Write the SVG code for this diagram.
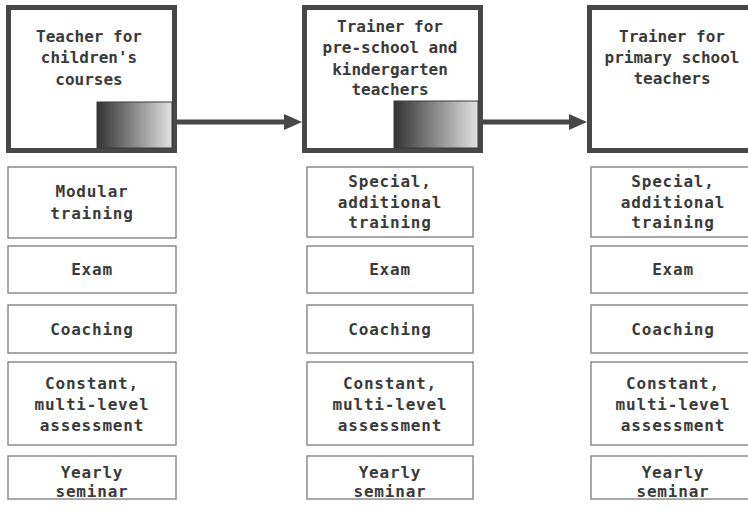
<svg xmlns="http://www.w3.org/2000/svg" width="748" height="510" viewBox="0 0 748 510">
<defs>
<linearGradient id="g" x1="0" y1="0" x2="1" y2="0">
<stop offset="0" stop-color="#333"/>
<stop offset="1" stop-color="#e2e2e2"/>
</linearGradient>
<style>
.big{fill:#fff;stroke:#474747;stroke-width:5}
.grad{fill:url(#g);stroke:#3a3a3a;stroke-width:1}
.sm{fill:#fff;stroke:#8c8c8c;stroke-width:1.5}
text{font-family:"DejaVu Sans Mono","Liberation Mono",monospace;font-weight:bold;fill:#3a3a3a;text-anchor:middle}
.t{font-size:16px}
.b{font-size:16px;letter-spacing:0.8px}
.conn line{stroke:#474747;stroke-width:5}
.conn polygon{fill:#474747}
</style>
</defs>
<rect width="748" height="510" fill="#fff"/>
<g id="top1">
<rect class="big" x="8.5" y="7.5" width="166" height="143"/>
<rect class="grad" x="97" y="102" width="75" height="46"/>
<text class="t" x="89" y="42">Teacher for</text>
<text class="t" x="89" y="63">children's</text>
<text class="t" x="89" y="85">courses</text>
</g>
<g id="top2">
<rect class="big" x="304.5" y="7.5" width="176" height="143"/>
<rect class="grad" x="394" y="101" width="84" height="47"/>
<text class="t" x="390" y="32">Trainer for</text>
<text class="t" x="390" y="53">pre-school and</text>
<text class="t" x="390" y="75">kindergarten</text>
<text class="t" x="390" y="95">teachers</text>
</g>
<g id="top3">
<rect class="big" x="589.5" y="7.5" width="172" height="143"/>
<text class="t" x="672" y="42">Trainer for</text>
<text class="t" x="672" y="63">primary school</text>
<text class="t" x="672" y="84">teachers</text>
</g>
<g class="conn">
<line x1="177" y1="122" x2="288" y2="122"/>
<polygon points="284,114 302,122 284,130"/>
<line x1="483" y1="122" x2="572" y2="122"/>
<polygon points="569,114 587,122 569,130"/>
</g>
<g id="c1a"><rect class="sm" x="8" y="167" width="168" height="71"/>
<text class="b" x="92" y="197">Modular</text><text class="b" x="92" y="219">training</text></g>
<g id="c1b"><rect class="sm" x="8" y="246" width="168" height="47"/>
<text class="b" x="92" y="275">Exam</text></g>
<g id="c1c"><rect class="sm" x="8" y="305" width="168" height="48"/>
<text class="b" x="92" y="335">Coaching</text></g>
<g id="c1d"><rect class="sm" x="8" y="362" width="168" height="83"/>
<text class="b" x="92" y="389">Constant,</text><text class="b" x="92" y="410">multi-level</text><text class="b" x="92" y="431">assessment</text></g>
<g id="c1e"><rect class="sm" x="8" y="456" width="168" height="43"/>
<text class="b" x="92" y="478">Yearly</text><text class="b" x="92" y="497">seminar</text></g>
<g id="c2a"><rect class="sm" x="307" y="167" width="166" height="70"/>
<text class="b" x="390" y="187">Special,</text><text class="b" x="390" y="208">additional</text><text class="b" x="390" y="228">training</text></g>
<g id="c2b"><rect class="sm" x="307" y="246" width="166" height="47"/>
<text class="b" x="390" y="275">Exam</text></g>
<g id="c2c"><rect class="sm" x="307" y="305" width="166" height="48"/>
<text class="b" x="390" y="335">Coaching</text></g>
<g id="c2d"><rect class="sm" x="307" y="362" width="166" height="83"/>
<text class="b" x="390" y="389">Constant,</text><text class="b" x="390" y="410">multi-level</text><text class="b" x="390" y="431">assessment</text></g>
<g id="c2e"><rect class="sm" x="307" y="456" width="166" height="43"/>
<text class="b" x="390" y="478">Yearly</text><text class="b" x="390" y="497">seminar</text></g>
<g id="c3a"><rect class="sm" x="591" y="167" width="166" height="70"/>
<text class="b" x="673" y="187">Special,</text><text class="b" x="673" y="208">additional</text><text class="b" x="673" y="228">training</text></g>
<g id="c3b"><rect class="sm" x="591" y="246" width="166" height="47"/>
<text class="b" x="673" y="275">Exam</text></g>
<g id="c3c"><rect class="sm" x="591" y="305" width="166" height="48"/>
<text class="b" x="673" y="335">Coaching</text></g>
<g id="c3d"><rect class="sm" x="591" y="362" width="166" height="83"/>
<text class="b" x="673" y="389">Constant,</text><text class="b" x="673" y="410">multi-level</text><text class="b" x="673" y="431">assessment</text></g>
<g id="c3e"><rect class="sm" x="591" y="456" width="166" height="43"/>
<text class="b" x="673" y="478">Yearly</text><text class="b" x="673" y="497">seminar</text></g>
</svg>
